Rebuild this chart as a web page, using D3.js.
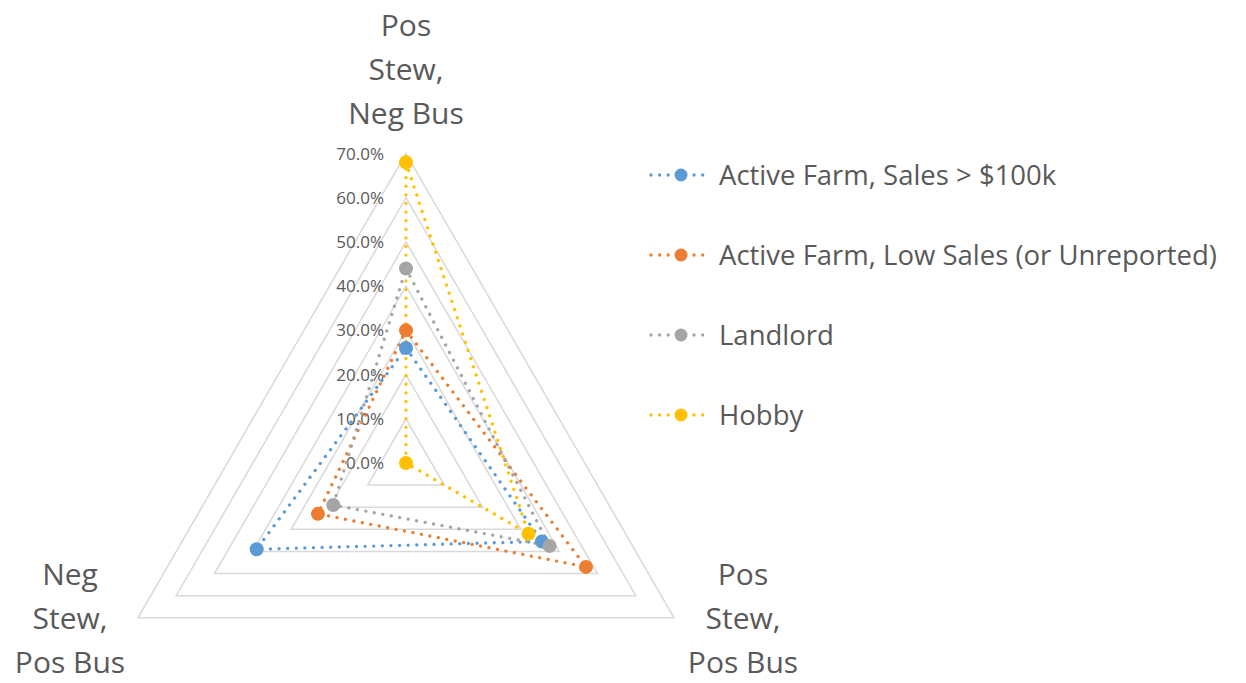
<!DOCTYPE html>
<html>
<head>
<meta charset="utf-8">
<script src="https://cdn.jsdelivr.net/npm/d3@7"></script>
<style>
  body { margin: 0; background: #fff; }
  svg { display: block; font-family: "Open Sans", "Noto Sans", sans-serif; }
</style>
</head>
<body>
<svg id="drawing_region"></svg>
<script>
// categories, clockwise from the top
const categories = ["Pos Stew, Neg Bus", "Pos Stew, Pos Bus", "Neg Stew, Pos Bus"];
const category_lines = [["Pos", "Stew,", "Neg Bus"], ["Pos", "Stew,", "Pos Bus"], ["Neg", "Stew,", "Pos Bus"]];

const series_names = ["Active Farm, Sales > $100k", "Active Farm, Low Sales (or Unreported)", "Landlord", "Hobby"];
const active_high = [0.26, 0.355, 0.39];
const active_low = [0.30, 0.47, 0.23];
const landlord = [0.44, 0.375, 0.19];
const hobby = [0.68, 0.32, 0.0];

const ticks = [0, 0.1, 0.2, 0.3, 0.4, 0.5, 0.6, 0.7];
const colors = ["#5B9BD5", "#ED7D31", "#A5A5A5", "#FFC000"];

const series = [active_high, active_low, landlord, hobby].map((v, i) => ({name: series_names[i], values: v, color: colors[i]}));

const width = 1246, height = 683;
const cx = 406, cy = 463;

const svg = d3.select('#drawing_region')
    .attr('width', width)
    .attr('height', height);

const rscale = d3.scaleLinear()
    .domain([0, 0.7])
    .range([0, 309.5]);

const angle = d3.scalePoint()
    .domain(categories)
    .range([-Math.PI / 2, -Math.PI / 2 + 2 * Math.PI * 2 / 3]);

const pt = (cat, v) => [cx + rscale(v) * Math.cos(angle(cat)), cy + rscale(v) * Math.sin(angle(cat))];

const line = d3.line().curve(d3.curveLinearClosed);

const chart = svg.append('g');

// grid triangles
chart.selectAll('.grid')
    .data(ticks.filter(t => t > 0))
    .enter()
    .append('path')
    .attr('class', 'grid')
    .attr('d', t => line(categories.map(c => pt(c, t))))
    .attr('fill', 'none')
    .attr('stroke', '#D9D9D9')
    .attr('stroke-width', 1.5);

// tick labels
chart.selectAll('.tick')
    .data(ticks)
    .enter()
    .append('text')
    .attr('x', cx - 22)
    .attr('y', t => cy - rscale(t) + 6)
    .attr('text-anchor', 'end')
    .attr('font-size', 17)
    .attr('fill', '#595959')
    .text(d3.format('.1%'));

// series lines
series.forEach(s => {
    chart.append('path')
        .attr('d', line(categories.map((c, i) => pt(c, s.values[i]))))
        .attr('fill', 'none')
        .attr('stroke', s.color)
        .attr('stroke-width', 3.3)
        .attr('stroke-linecap', 'round')
        .attr('stroke-dasharray', '0.01 8.6');
});

// markers
series.forEach(s => {
    chart.selectAll(null)
        .data(categories)
        .enter()
        .append('circle')
        .attr('cx', (c, i) => pt(c, s.values[i])[0])
        .attr('cy', (c, i) => pt(c, s.values[i])[1])
        .attr('r', 7)
        .attr('fill', s.color);
});

// category labels
const label_pos = [
    {x: cx, y: 36},
    {x: 743, y: 585},
    {x: 70, y: 585}
];
categories.forEach((c, i) => {
    const t = svg.append('text')
        .attr('text-anchor', 'middle')
        .attr('font-size', 30)
        .attr('fill', '#595959');
    category_lines[i].forEach((l, j) => {
        t.append('tspan')
            .attr('x', label_pos[i].x)
            .attr('y', label_pos[i].y + j * 44)
            .text(l);
    });
});

// legend
const legend = svg.append('g')
    .attr('transform', 'translate(648, 0)');
const rows = legend.selectAll('g')
    .data(series)
    .enter()
    .append('g')
    .attr('transform', (d, i) => `translate(0, ${175 + i * 80})`);
rows.append('line')
    .attr('x1', 3).attr('x2', 58)
    .attr('y1', 0).attr('y2', 0)
    .attr('stroke', d => d.color)
    .attr('stroke-width', 3.3)
    .attr('stroke-linecap', 'round')
    .attr('stroke-dasharray', '0.01 8.6');
rows.append('circle')
    .attr('cx', 33)
    .attr('r', 6.5)
    .attr('fill', d => d.color);
rows.append('text')
    .attr('x', 71)
    .attr('y', 10)
    .attr('font-size', 27.5)
    .attr('fill', '#595959')
    .text(d => d.name);
</script>
</body>
</html>
